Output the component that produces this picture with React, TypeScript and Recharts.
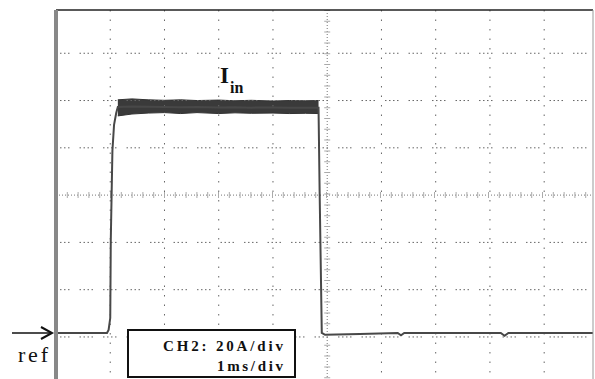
import {
  ComposedChart, Line, Area, XAxis, YAxis, ReferenceLine,
} from 'recharts';

// scope capture: CH2 input current, 20 A/div, 1 ms/div, 0 A at the "ref" marker
const TIME_MS = [
  0, 0.94, 0.97, 1.0, 1.01, 1.04, 1.07, 1.11, 1.14, 1.4, 1.7, 2.0, 2.3, 2.6, 3.0, 3.3,
  3.6, 4.0, 4.3, 4.6, 4.84, 4.86, 4.9, 4.96, 5.6, 6.3, 6.36, 6.42, 8.2, 8.27, 8.34, 9.9,
];
const CURRENT_A = [
  0, 0, 1.3, 6.3, 39, 77, 88, 93, 95.6, 95.8, 95.7, 95.6, 95.5, 95.6, 95.4, 95.5,
  95.3, 95.4, 95.3, 95.2, 95.2, 60, 0, -0.8, -0.4, 0, -1.0, 0, 0, -1.2, 0, 0,
];
// noise envelope on the flat top (null = no envelope)
const BAND_LO = [
  null, null, null, null, null, null, null, null, 91.8, 92.6, 93.0, 93.2, 92.8, 93.2, 92.8, 93.1,
  92.9, 93.0, 92.8, 92.9, 92.8, null, null, null, null, null, null, null, null, null, null, null,
];
const BAND_HI = [
  null, null, null, null, null, null, null, null, 98.6, 99.0, 98.6, 98.4, 98.6, 98.3, 98.5, 98.2,
  98.4, 98.1, 98.3, 98.2, 98.3, null, null, null, null, null, null, null, null, null, null, null,
];

const X_DOMAIN: [number, number] = [0, 9.9];
const Y_DOMAIN: [number, number] = [-21.6, 136.6];
const GRID_T = [1, 2, 3, 4, 6, 7, 8, 9];
const CENTER_T = 5;
const GRID_A = [-1.7, 18.3, 38.3, 78.3, 98.3, 118.3];
const CENTER_A = 58.3;

const data = TIME_MS.map((t, i) => ({
  t,
  i: CURRENT_A[i],
  band: BAND_LO[i] != null ? [BAND_LO[i], BAND_HI[i]] : null,
}));

const serif = '"Liberation Serif", "DejaVu Serif", serif';

export default function App() {
  return (
    <div style={{ position: 'absolute', left: 0, top: 0, width: 595, height: 379, overflow: 'hidden', background: '#fff' }}>
      <ComposedChart width={595} height={384} data={data} margin={{ top: 0, right: 0, bottom: 0, left: 0 }}>
        <XAxis
          type="number" dataKey="t" domain={X_DOMAIN} orientation="top" height={10}
          tick={false} tickLine={false} axisLine={{ stroke: '#222', strokeWidth: 1.5 }}
        />
        <YAxis
          type="number" domain={Y_DOMAIN} width={56} allowDataOverflow
          tick={false} tickLine={false} axisLine={{ stroke: '#888', strokeWidth: 4 }}
        />
        <YAxis
          yAxisId="r" orientation="right" type="number" domain={Y_DOMAIN} width={2}
          tick={false} tickLine={false} axisLine={{ stroke: '#999', strokeWidth: 1 }}
        />
        {GRID_T.map((t) => (
          <ReferenceLine key={'vt' + t} x={t} stroke="#666" strokeDasharray="1.5 8" />
        ))}
        {GRID_A.map((a) => (
          <ReferenceLine key={'ha' + a} y={a} stroke="#666" strokeDasharray="1.5 2.5 1.5 2.5 1.5 2.5 1.5 10" />
        ))}
        <ReferenceLine x={CENTER_T} stroke="#777" strokeDasharray="1 2" />
        <ReferenceLine x={CENTER_T} stroke="#aaa" strokeWidth={6} strokeDasharray="1 9.8" />
        <ReferenceLine y={CENTER_A} stroke="#777" strokeDasharray="1 2" />
        <ReferenceLine y={CENTER_A} stroke="#aaa" strokeWidth={6} strokeDasharray="1 9.8" />
        <Area
          dataKey="band" type="linear" fill="#3a3a3a" fillOpacity={1} stroke="#333" strokeWidth={1}
          isAnimationActive={false} connectNulls={false} activeDot={false}
        />
        <Line
          dataKey="i" type="linear" stroke="#484848" strokeWidth={2} dot={false}
          isAnimationActive={false} activeDot={false}
        />
      </ComposedChart>
      <svg width={595} height={379} style={{ position: 'absolute', left: 0, top: 0, pointerEvents: 'none' }}>
        <text x={220} y={83} fontFamily={serif} fontSize={23} fontWeight="bold" fill="#111">I</text>
        <text x={230} y={93} fontFamily={serif} fontSize={16} fontWeight="bold" fill="#111">in</text>
        <rect x={128} y={330} width={167} height={47} fill="#fff" stroke="#111" strokeWidth={2} />
        <text x={163} y={351} fontFamily={serif} fontSize={15} fontWeight="bold" fill="#111"
          textLength={120} lengthAdjust="spacing">CH2: 20A/div</text>
        <text x={217} y={371} fontFamily={serif} fontSize={15} fontWeight="bold" fill="#111"
          textLength={66} lengthAdjust="spacing">1ms/div</text>
        <text x={18} y={362} fontFamily={serif} fontSize={22} fill="#111"
          textLength={30} lengthAdjust="spacing">ref</text>
        <line x1={12} y1={333} x2={51} y2={333} stroke="#111" strokeWidth={1.5} />
        <polyline points="41,327 52,333 41,339" fill="none" stroke="#111" strokeWidth={2} />
      </svg>
    </div>
  );
}
